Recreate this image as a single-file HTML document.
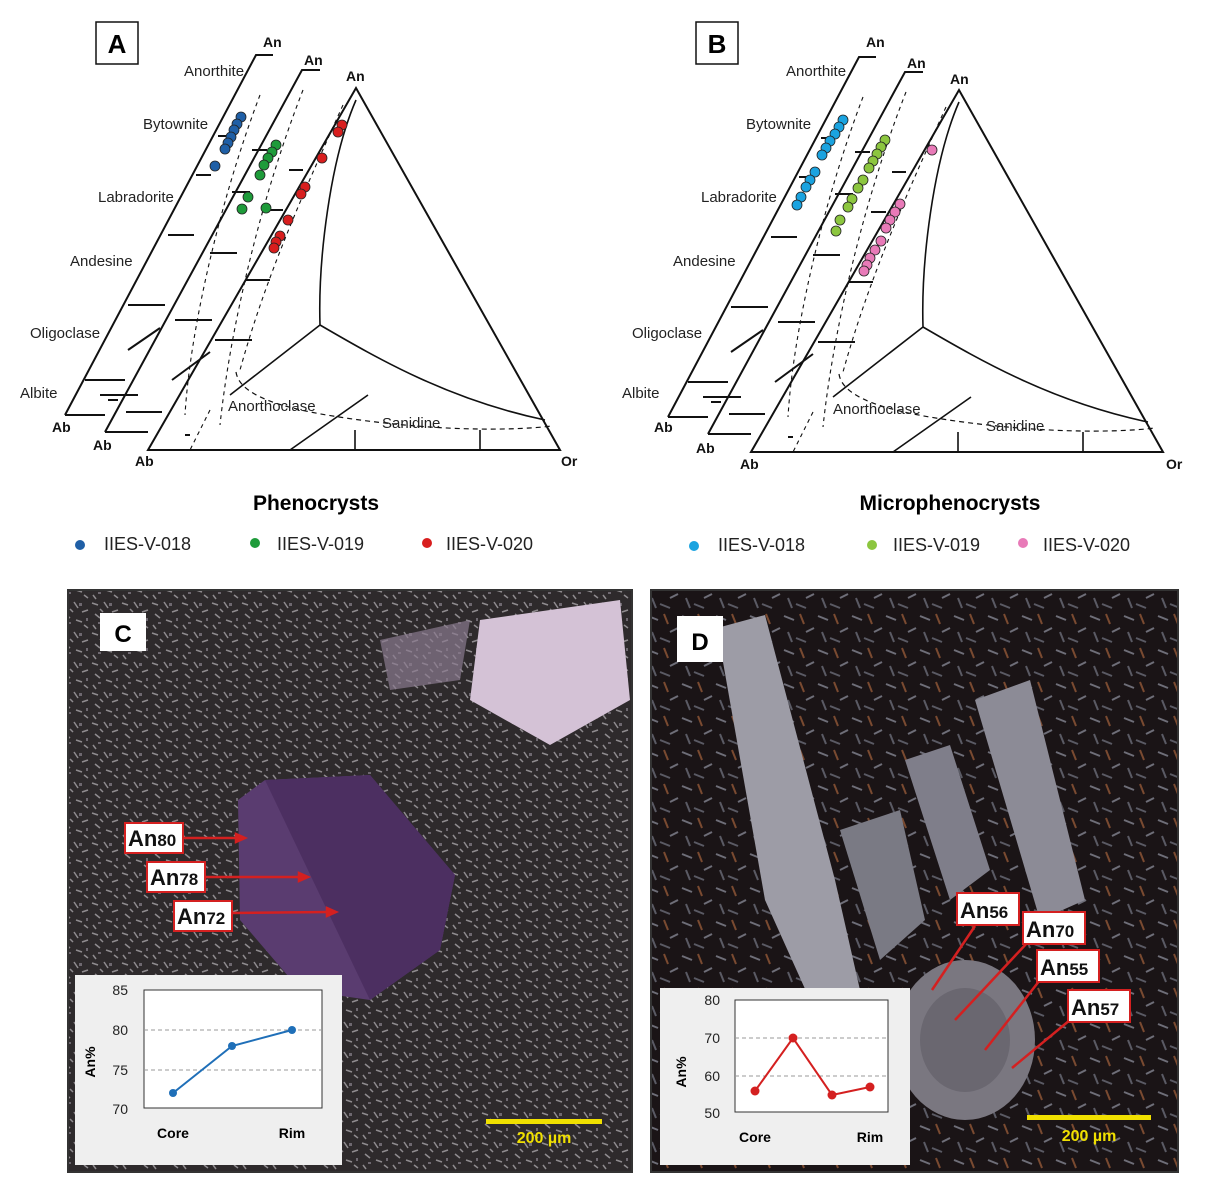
<!DOCTYPE html>
<html><head><meta charset="utf-8"><style>
body{margin:0;background:#fff;}
svg{display:block;font-family:"Liberation Sans",sans-serif;}
</style></head><body>
<svg width="1215" height="1184" viewBox="0 0 1215 1184">
<rect width="1215" height="1184" fill="#fff"/>
<defs>
<pattern id="gm" width="30" height="30" patternUnits="userSpaceOnUse">
<rect width="30" height="30" fill="#2e2a2c"/>
<g stroke="#a8a4a8" stroke-width="1.5" opacity="0.8">
<line x1="2" y1="3" x2="8" y2="5"/><line x1="14" y1="2" x2="18" y2="8"/><line x1="22" y1="12" x2="28" y2="10"/>
<line x1="5" y1="14" x2="10" y2="18"/><line x1="16" y1="20" x2="22" y2="22"/><line x1="3" y1="25" x2="6" y2="29"/>
<line x1="24" y1="25" x2="28" y2="28"/><line x1="10" y1="9" x2="13" y2="12"/></g>
<g fill="#6e6870"><rect x="19" y="3" width="3" height="3"/><rect x="8" y="22" width="3" height="2"/><rect x="26" y="18" width="2" height="3"/></g>
</pattern>
<pattern id="gm2" width="34" height="34" patternUnits="userSpaceOnUse">
<rect width="34" height="34" fill="#1a1416"/>
<g stroke-width="2">
<line x1="2" y1="4" x2="12" y2="8" stroke="#6e6e78"/><line x1="18" y1="2" x2="22" y2="12" stroke="#7a4a30"/>
<line x1="24" y1="20" x2="32" y2="16" stroke="#6e6e78"/><line x1="6" y1="20" x2="10" y2="30" stroke="#5a5a64"/>
<line x1="14" y1="26" x2="24" y2="30" stroke="#5a5a64"/></g>
</pattern>
<g id="tern" fill="none" stroke="#111" stroke-width="2">
  <path d="M65,415 L256,55 L273,55"/>
  <path d="M65,415 L105,415"/>
  <path d="M105,432 L302,70 L320,70"/>
  <path d="M105,432 L148,432"/>
  <path d="M148,450 L356,88 L560,450 Z"/>
  <path d="M356,100 C330,160 318,260 320,325 L230,395 M320,325 C380,360 450,400 545,420 M290,450 L368,395 M355,450 V430 M480,450 V430" stroke-width="1.6"/>
  <path d="M236,372 C240,400 300,412 360,420 C450,432 520,430 552,426" stroke-dasharray="5,4" stroke-width="1.2"/>
  <path d="M343,105 C300,200 265,280 240,370 M260,95 C220,200 190,330 185,415 M303,90 C260,200 230,330 220,425 M210,410 L190,450" stroke-dasharray="4,4" stroke-width="1.1"/>
  <path d="M218,136 H233 M196,175 H211 M168,235 H194 M128,305 H165 M85,380 H125 M100,395 H138 M128,350 L160,328 M252,150 H267 M232,192 H250 M210,253 H237 M175,320 H212 M126,412 H162 M108,400 H118 M172,380 L210,352 M289,170 H303 M268,210 H283 M245,280 H270 M215,340 H252 M185,435 H190"/>
</g>
</defs>
<rect x="96" y="22" width="42" height="42" fill="#fff" stroke="#111" stroke-width="1.5"/>
<text x="117" y="53" font-size="26" font-weight="bold" text-anchor="middle">A</text>
<use href="#tern"/>
<g font-size="15" fill="#222">
<text x="184" y="76">Anorthite</text><text x="143" y="129">Bytownite</text><text x="98" y="202">Labradorite</text>
<text x="70" y="266">Andesine</text><text x="30" y="338">Oligoclase</text><text x="20" y="398">Albite</text>
<text x="228" y="411">Anorthoclase</text><text x="382" y="428">Sanidine</text>
</g>
<g font-size="14" font-weight="bold" fill="#111">
<text x="263" y="47">An</text><text x="304" y="65">An</text><text x="346" y="81">An</text>
<text x="52" y="432">Ab</text><text x="93" y="450">Ab</text><text x="135" y="466">Ab</text><text x="561" y="466">Or</text>
</g>
<g stroke="#222" stroke-width="0.8">
<g fill="#1f5fa6"><circle cx="241" cy="117" r="5"/><circle cx="237" cy="124" r="5"/><circle cx="234" cy="130" r="5"/><circle cx="231" cy="137" r="5"/><circle cx="228" cy="143" r="5"/><circle cx="225" cy="149" r="5"/><circle cx="215" cy="166" r="5"/></g>
<g fill="#1e9b3a"><circle cx="276" cy="145" r="5"/><circle cx="272" cy="152" r="5"/><circle cx="268" cy="158" r="5"/><circle cx="264" cy="165" r="5"/><circle cx="260" cy="175" r="5"/><circle cx="248" cy="197" r="5"/><circle cx="242" cy="209" r="5"/><circle cx="266" cy="208" r="5"/></g>
<g fill="#d81e1e"><circle cx="342" cy="125" r="5"/><circle cx="338" cy="132" r="5"/><circle cx="322" cy="158" r="5"/><circle cx="305" cy="187" r="5"/><circle cx="301" cy="194" r="5"/><circle cx="288" cy="220" r="5"/><circle cx="280" cy="236" r="5"/><circle cx="276" cy="242" r="5"/><circle cx="274" cy="248" r="5"/></g>
</g>
<text x="316" y="510" font-size="21" font-weight="bold" text-anchor="middle">Phenocrysts</text>
<g font-size="18" fill="#222">
<circle cx="80" cy="545" r="5" fill="#1f5fa6"/><text x="104" y="550">IIES-V-018</text>
<circle cx="255" cy="543" r="5" fill="#1e9b3a"/><text x="277" y="550">IIES-V-019</text>
<circle cx="427" cy="543" r="5" fill="#d81e1e"/><text x="446" y="550">IIES-V-020</text>
</g>
<rect x="696" y="22" width="42" height="42" fill="#fff" stroke="#111" stroke-width="1.5"/>
<text x="717" y="53" font-size="26" font-weight="bold" text-anchor="middle">B</text>
<use href="#tern" transform="translate(603,2)"/>
<g font-size="15" fill="#222">
<text x="786" y="76">Anorthite</text><text x="746" y="129">Bytownite</text><text x="701" y="202">Labradorite</text>
<text x="673" y="266">Andesine</text><text x="632" y="338">Oligoclase</text><text x="622" y="398">Albite</text>
<text x="833" y="414">Anorthoclase</text><text x="986" y="431">Sanidine</text>
</g>
<g font-size="14" font-weight="bold" fill="#111">
<text x="866" y="47">An</text><text x="907" y="68">An</text><text x="950" y="84">An</text>
<text x="654" y="432">Ab</text><text x="696" y="453">Ab</text><text x="740" y="469">Ab</text><text x="1166" y="469">Or</text>
</g>
<g stroke="#222" stroke-width="0.8">
<g fill="#1aa3e0"><circle cx="843" cy="120" r="5"/><circle cx="839" cy="127" r="5"/><circle cx="835" cy="134" r="5"/><circle cx="830" cy="141" r="5"/><circle cx="826" cy="148" r="5"/><circle cx="822" cy="155" r="5"/><circle cx="815" cy="172" r="5"/><circle cx="810" cy="180" r="5"/><circle cx="806" cy="187" r="5"/><circle cx="801" cy="197" r="5"/><circle cx="797" cy="205" r="5"/></g>
<g fill="#8cc63f"><circle cx="885" cy="140" r="5"/><circle cx="881" cy="147" r="5"/><circle cx="877" cy="154" r="5"/><circle cx="873" cy="161" r="5"/><circle cx="869" cy="168" r="5"/><circle cx="863" cy="180" r="5"/><circle cx="858" cy="188" r="5"/><circle cx="852" cy="199" r="5"/><circle cx="848" cy="207" r="5"/><circle cx="840" cy="220" r="5"/><circle cx="836" cy="231" r="5"/></g>
<g fill="#e87ab8"><circle cx="932" cy="150" r="5"/><circle cx="900" cy="204" r="5"/><circle cx="895" cy="212" r="5"/><circle cx="890" cy="220" r="5"/><circle cx="886" cy="228" r="5"/><circle cx="881" cy="241" r="5"/><circle cx="875" cy="250" r="5"/><circle cx="870" cy="258" r="5"/><circle cx="867" cy="265" r="5"/><circle cx="864" cy="271" r="5"/></g>
</g>
<text x="950" y="510" font-size="21" font-weight="bold" text-anchor="middle">Microphenocrysts</text>
<g font-size="18" fill="#222">
<circle cx="694" cy="546" r="5" fill="#1aa3e0"/><text x="718" y="551">IIES-V-018</text>
<circle cx="872" cy="545" r="5" fill="#8cc63f"/><text x="893" y="551">IIES-V-019</text>
<circle cx="1023" cy="543" r="5" fill="#e87ab8"/><text x="1043" y="551">IIES-V-020</text>
</g>

<rect x="68" y="590" width="564" height="582" fill="url(#gm)"/>
<rect x="68" y="590" width="564" height="582" fill="none" stroke="#333" stroke-width="2"/>
<path d="M480,620 L620,600 L630,700 L550,745 L470,700 Z" fill="#d4c2d6"/>
<path d="M380,640 L470,620 L460,680 L390,690 Z" fill="#8a7a8e" opacity="0.7"/>
<path d="M238,800 L265,780 L370,775 L455,875 L440,950 L370,1000 L300,990 L240,920 Z" fill="#5a3c70"/>
<path d="M265,780 L370,775 L455,875 L440,950 L370,1000 Z" fill="#4c2f61"/>
<rect x="100" y="613" width="46" height="38" fill="#fff"/>
<text x="123" y="642" font-size="24" font-weight="bold" text-anchor="middle">C</text>
<g stroke="#d42020" stroke-width="2.5" fill="#d42020">
<line x1="183" y1="838" x2="238" y2="838"/><path d="M245,838 l-9,-4 v8z"/>
<line x1="205" y1="877" x2="300" y2="877"/><path d="M308,877 l-9,-4 v8z"/>
<line x1="232" y1="913" x2="328" y2="912"/><path d="M336,912 l-9,-4 v8z"/>
</g>
<g font-size="22" font-weight="bold" fill="#111">
<rect x="125" y="823" width="58" height="30" fill="#fff" stroke="#d42020" stroke-width="2"/><text x="128" y="846">An<tspan font-size="17">80</tspan></text>
<rect x="147" y="862" width="58" height="30" fill="#fff" stroke="#d42020" stroke-width="2"/><text x="150" y="885">An<tspan font-size="17">78</tspan></text>
<rect x="174" y="901" width="58" height="30" fill="#fff" stroke="#d42020" stroke-width="2"/><text x="177" y="924">An<tspan font-size="17">72</tspan></text>
</g>
<rect x="75" y="975" width="267" height="190" fill="#efefef"/>
<rect x="144" y="990" width="178" height="118" fill="#fff" stroke="#333"/>
<g stroke="#999" stroke-dasharray="4,3"><line x1="144" y1="1030" x2="322" y2="1030"/><line x1="144" y1="1070" x2="322" y2="1070"/></g>
<g font-size="14" fill="#222" text-anchor="end"><text x="128" y="995">85</text><text x="128" y="1035">80</text><text x="128" y="1075">75</text><text x="128" y="1114">70</text></g>
<text x="95" y="1062" font-size="14" font-weight="bold" transform="rotate(-90 95 1062)" text-anchor="middle">An%</text>
<polyline points="173,1093 232,1046 292,1030" fill="none" stroke="#1f6fb8" stroke-width="2"/>
<g fill="#1f6fb8"><circle cx="173" cy="1093" r="4"/><circle cx="232" cy="1046" r="4"/><circle cx="292" cy="1030" r="4"/></g>
<text x="173" y="1138" font-size="14" font-weight="bold" text-anchor="middle">Core</text>
<text x="292" y="1138" font-size="14" font-weight="bold" text-anchor="middle">Rim</text>
<rect x="486" y="1119" width="116" height="5" fill="#f0e000"/>
<text x="544" y="1143" font-size="16" font-weight="bold" fill="#f0e000" text-anchor="middle">200 µm</text>

<rect x="651" y="590" width="527" height="582" fill="url(#gm2)"/>
<rect x="651" y="590" width="527" height="582" fill="none" stroke="#333" stroke-width="2"/>
<path d="M717,628 L765,615 L835,880 L860,990 L810,1000 L765,900 Z" fill="#9d9ca6"/>
<path d="M905,760 L950,745 L990,870 L950,900 Z" fill="#7f7e8a"/>
<path d="M975,700 L1030,680 L1085,900 L1040,920 Z" fill="#8c8b96"/>
<path d="M840,830 L900,810 L925,920 L880,960 Z" fill="#7a7a84"/>
<ellipse cx="965" cy="1040" rx="70" ry="80" fill="#7a7780"/>
<ellipse cx="965" cy="1040" rx="45" ry="52" fill="#6a6770"/>
<rect x="677" y="616" width="46" height="46" fill="#fff"/>
<text x="700" y="650" font-size="24" font-weight="bold" text-anchor="middle">D</text>
<g stroke="#d42020" stroke-width="2.5" fill="none">
<line x1="975" y1="926" x2="932" y2="990"/><line x1="1028" y1="942" x2="955" y2="1020"/>
<line x1="1040" y1="980" x2="985" y2="1050"/><line x1="1070" y1="1020" x2="1012" y2="1068"/>
</g>
<g font-size="22" font-weight="bold" fill="#111">
<rect x="957" y="893" width="62" height="32" fill="#fff" stroke="#d42020" stroke-width="2"/><text x="960" y="918">An<tspan font-size="17">56</tspan></text>
<rect x="1023" y="912" width="62" height="32" fill="#fff" stroke="#d42020" stroke-width="2"/><text x="1026" y="937">An<tspan font-size="17">70</tspan></text>
<rect x="1037" y="950" width="62" height="32" fill="#fff" stroke="#d42020" stroke-width="2"/><text x="1040" y="975">An<tspan font-size="17">55</tspan></text>
<rect x="1068" y="990" width="62" height="32" fill="#fff" stroke="#d42020" stroke-width="2"/><text x="1071" y="1015">An<tspan font-size="17">57</tspan></text>
</g>
<rect x="660" y="988" width="250" height="177" fill="#efefef"/>
<rect x="735" y="1000" width="153" height="112" fill="#fff" stroke="#333"/>
<g stroke="#999" stroke-dasharray="4,3"><line x1="735" y1="1038" x2="888" y2="1038"/><line x1="735" y1="1076" x2="888" y2="1076"/></g>
<g font-size="14" fill="#222" text-anchor="end"><text x="720" y="1005">80</text><text x="720" y="1043">70</text><text x="720" y="1081">60</text><text x="720" y="1118">50</text></g>
<text x="686" y="1072" font-size="14" font-weight="bold" transform="rotate(-90 686 1072)" text-anchor="middle">An%</text>
<polyline points="755,1091 793,1038 832,1095 870,1087" fill="none" stroke="#d42020" stroke-width="2"/>
<g fill="#d42020"><circle cx="755" cy="1091" r="4.5"/><circle cx="793" cy="1038" r="4.5"/><circle cx="832" cy="1095" r="4.5"/><circle cx="870" cy="1087" r="4.5"/></g>
<text x="755" y="1142" font-size="14" font-weight="bold" text-anchor="middle">Core</text>
<text x="870" y="1142" font-size="14" font-weight="bold" text-anchor="middle">Rim</text>
<rect x="1027" y="1115" width="124" height="5" fill="#f0e000"/>
<text x="1089" y="1141" font-size="16" font-weight="bold" fill="#f0e000" text-anchor="middle">200 µm</text>
</svg>
</body></html>
